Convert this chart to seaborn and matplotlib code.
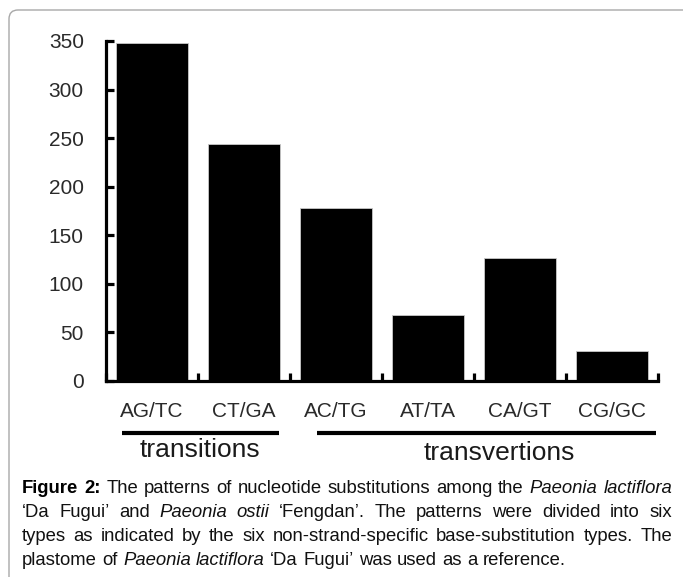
import numpy as np
import matplotlib
matplotlib.use("Agg")
import matplotlib.pyplot as plt
import seaborn as sns
from matplotlib.patches import FancyBboxPatch
from matplotlib.transforms import IdentityTransform, blended_transform_factory
from matplotlib.font_manager import FontProperties

# ---------------- data ----------------
categories = ["AG/TC", "CT/GA", "AC/TG", "AT/TA", "CA/GT", "CG/GC"]
counts = [348, 244, 178, 68, 127, 31]
y_ticks = [0, 50, 100, 150, 200, 250, 300, 350]
group_names = ["transitions", "transvertions"]
group_first = [0, 2]
group_last = [1, 5]

caption_lines = [
    [("Figure 2:", "bold"), (" The patterns of nucleotide substitutions among the ", "normal"),
     ("Paeonia lactiflora", "italic")],
    [("\u2018Da Fugui\u2019 and ", "normal"), ("Paeonia ostii", "italic"),
     (" \u2018Fengdan\u2019. The patterns were divided into six", "normal")],
    [("types as indicated by the six non-strand-specific base-substitution types. The", "normal")],
    [("plastome of ", "normal"), ("Paeonia lactiflora", "italic"),
     (" \u2018Da Fugui\u2019 was used as a reference.", "normal")],
]

# ---------------- style ----------------
sns.set_theme(style="white")
FONT = "Liberation Sans"
plt.rcParams["font.family"] = [FONT, "DejaVu Sans"]

W, H = 683, 577
fig = plt.figure(figsize=(W / 100, H / 100), dpi=100)
fig.patch.set_facecolor("white")

# frame with rounded corner
frame = FancyBboxPatch((9, -30), 720, H - 10 + 30,
                       boxstyle="round,pad=0,rounding_size=9",
                       transform=IdentityTransform(), facecolor="none",
                       edgecolor="#a8a8a8", linewidth=1.0)
fig.add_artist(frame)

def fx(px):
    return px / W

def fy(py):
    return 1 - py / H

ax_l, ax_r, ax_t, ax_b = 106, 658, 41, 381
ax = fig.add_axes([fx(ax_l), fy(ax_b), (ax_r - ax_l) / W, (ax_b - ax_t) / H])
ax.set_facecolor("none")

sns.barplot(x=categories, y=counts, color="black", saturation=1, width=0.79,
            edgecolor="#c8c8c8", linewidth=0.6, ax=ax)

ax.set_xlim(-0.5, len(categories) - 0.5)
ax.set_ylim(0, 350)
ax.set_yticks(y_ticks)
ax.set_yticklabels([str(v) for v in y_ticks])
ax.set_xticks(range(len(categories)))
ax.set_xticklabels(categories)
ax.set_xticks(np.arange(-0.5, len(categories), 1.0), minor=True)

for s in ["top", "right"]:
    ax.spines[s].set_visible(False)
for s in ["left", "bottom"]:
    ax.spines[s].set_linewidth(2.3)
    ax.spines[s].set_color("black")
    ax.spines[s].set_capstyle("projecting")

ax.tick_params(axis="y", direction="in", length=6, width=2.3, color="black",
               labelsize=15, labelcolor="#2a2a2a", pad=16, left=True)
ax.tick_params(axis="x", which="major", length=0, labelsize=15,
               labelcolor="#2a2a2a", pad=15, bottom=True)
ax.tick_params(axis="x", which="minor", direction="in", length=6, width=2.3,
               color="black", bottom=True)
ax.set_xlabel("")
ax.set_ylabel("")
ax.grid(False)

# group lines and labels
trans = blended_transform_factory(ax.transData, fig.transFigure)
line_pads = [(0.17, 0.12), (0.29, 0.02)]
label_shift = [0.02, 0.27]
label_y = [450, 453]
for name, a, b, (lp, rp), sh, ly in zip(group_names, group_first, group_last,
                                        line_pads, label_shift, label_y):
    ax.plot([a - 0.5 + lp, b + 0.5 - rp], [fy(433), fy(433)], color="black",
            lw=3.0, transform=trans, clip_on=False, solid_capstyle="butt")
    ax.text((a + b) / 2 + sh, fy(ly), name, transform=trans, ha="center",
            va="center", fontsize=19, color="#1a1a1a")

# ---------------- caption (justified) ----------------
renderer = fig.canvas.get_renderer()

def fprop(style, size):
    if style == "bold":
        return FontProperties(family=FONT, weight="bold", size=size)
    if style == "italic":
        return FontProperties(family=FONT, style="italic", size=size)
    return FontProperties(family=FONT, size=size)

def tw(s, style, size):
    w, h, d = renderer.get_text_width_height_descent(s, fprop(style, size), ismath=False)
    return w

def words_of(line):
    out = []
    for text, style in line:
        for wd in text.split(" "):
            if wd:
                out.append((wd, style))
    return out

cap_left, cap_right = 22, 672
cap_w = cap_right - cap_left
base = 12.0
w1 = words_of(caption_lines[0])
nat = sum(tw(w, s, base) for w, s in w1) + (len(w1) - 1) * tw(" ", "normal", base)
size = base * cap_w / nat * 0.995

baselines = [493, 517, 541, 565]
for i, (line, bl) in enumerate(zip(caption_lines, baselines)):
    ws = words_of(line)
    widths = [tw(w, s, size) for w, s in ws]
    if i < len(caption_lines) - 1:
        gap = (cap_w - sum(widths)) / (len(ws) - 1)
    else:
        gap = tw(" ", "normal", size) * 1.05
    x = cap_left
    for (w, s), wd in zip(ws, widths):
        fig.text(fx(x), fy(bl), w, fontproperties=fprop(s, size),
                 color="#111111" if s != "bold" else "black", va="baseline", ha="left")
        x += wd + gap

fig.savefig("out.png", dpi=100)
